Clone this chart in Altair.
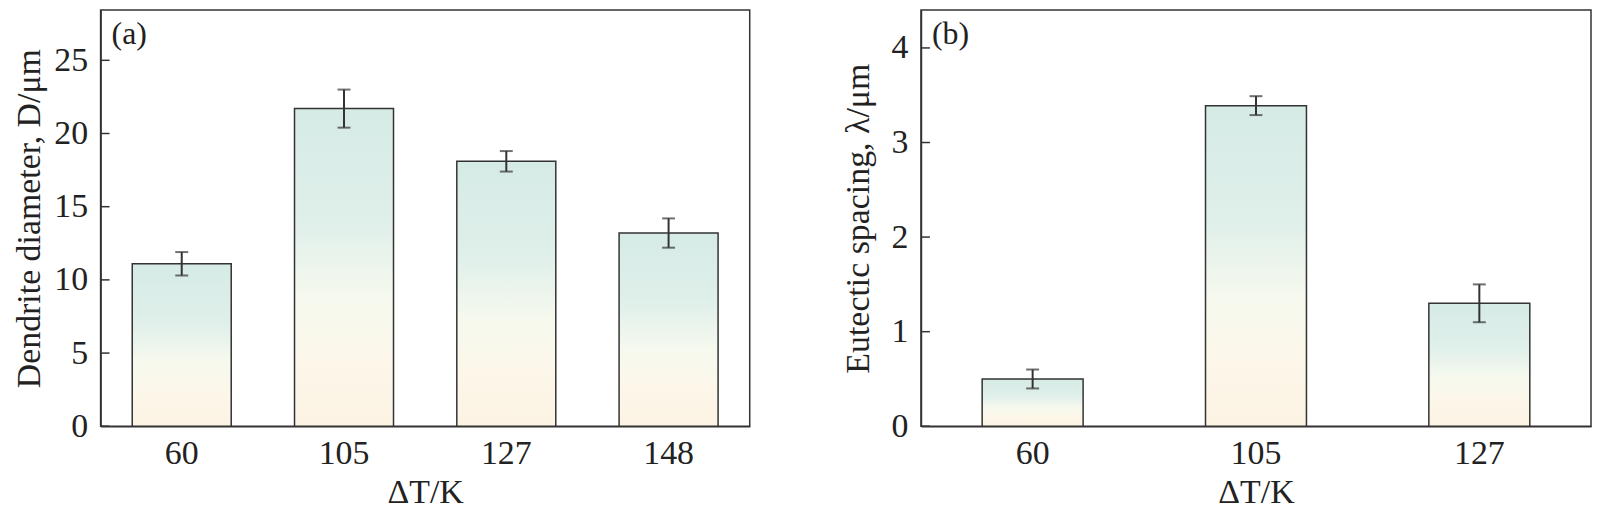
import altair as alt
import pandas as pd

# ---- data ----
dt_a = ["60", "105", "127", "148"]
dendrite = [11.1, 21.7, 18.1, 13.2]
dendrite_err = [0.8, 1.3, 0.7, 1.0]

dt_b = ["60", "105", "127"]
spacing = [0.50, 3.39, 1.30]
spacing_err = [0.10, 0.10, 0.20]

ticks_a = [0, 5, 10, 15, 20, 25]
ticks_b = [0, 1, 2, 3, 4]

FONT = "Liberation Serif"
INK = "#333333"
TXT = "#222222"

gradient = alt.Gradient(
    gradient="linear",
    stops=[
        alt.GradientStop(color="#d6ebe6", offset=0),
        alt.GradientStop(color="#dfefea", offset=0.35),
        alt.GradientStop(color="#f6f9ee", offset=0.6),
        alt.GradientStop(color="#fcf7ea", offset=0.78),
        alt.GradientStop(color="#fcf3e3", offset=1),
    ],
    x1=0, x2=0, y1=0, y2=1,
)


def panel(cats, vals, errs, ticks, ymax, ytitle, tag, width, pad_inner, title_pad):
    df = pd.DataFrame({
        "dt": cats,
        "v": vals,
        "lo": [v - e for v, e in zip(vals, errs)],
        "hi": [v + e for v, e in zip(vals, errs)],
    })
    tdf = pd.DataFrame({"t": ticks})
    xscale = alt.Scale(paddingInner=pad_inner, paddingOuter=pad_inner / 2)
    yscale = alt.Scale(domain=[0, ymax], nice=False, zero=True)

    x_main = alt.X(
        "dt:N", sort=cats, title="ΔT/K", scale=xscale,
        axis=alt.Axis(labelAngle=0, ticks=False, labelPadding=10, titlePadding=6),
    )
    x_plain = alt.X("dt:N", sort=cats, title="ΔT/K", scale=xscale)

    bars = alt.Chart(df).mark_bar(fill=gradient, stroke=INK, strokeWidth=1.5).encode(
        x=x_main,
        y=alt.Y("v:Q", scale=yscale, title=ytitle,
                axis=alt.Axis(values=ticks, ticks=False, grid=False, format="d",
                              labelPadding=13, titlePadding=title_pad)),
    )
    rule = alt.Chart(df).mark_rule(color=INK, strokeWidth=2).encode(
        x=x_plain,
        y=alt.Y("lo:Q", scale=yscale, title=ytitle),
        y2="hi:Q",
    )
    cap_lo = alt.Chart(df).mark_tick(color=INK, size=13, thickness=2).encode(
        x=x_plain, y=alt.Y("lo:Q", scale=yscale, title=ytitle)
    )
    cap_hi = alt.Chart(df).mark_tick(color=INK, size=13, thickness=2).encode(
        x=x_plain, y=alt.Y("hi:Q", scale=yscale, title=ytitle)
    )
    inner = alt.Chart(tdf).mark_rule(color=INK, strokeWidth=1.5).encode(
        y=alt.Y("t:Q", scale=yscale, title=ytitle),
        x=alt.value(0),
        x2=alt.value(9),
    )
    label = alt.Chart(pd.DataFrame({"s": [tag]})).mark_text(
        font=FONT, fontSize=32, color=TXT, align="left", baseline="alphabetic"
    ).encode(text="s:N", x=alt.value(11), y=alt.value(34))

    return alt.layer(bars, rule, cap_lo, cap_hi, inner, label).properties(
        width=width, height=418
    )


left = panel(dt_a, dendrite, dendrite_err, ticks_a, 28.43,
             "Dendrite diameter, D/μm", "(a)", 652, 0.39, 7)
right = panel(dt_b, spacing, spacing_err, ticks_b, 4.4,
              "Eutectic spacing, λ/μm", "(b)", 673, 0.548, 16)

chart = (
    alt.hconcat(left, right, spacing=90)
    .properties(padding={"left": 4, "top": 0, "right": 0, "bottom": 0})
    .configure_view(stroke=INK, strokeWidth=1.5)
    .configure_axis(
        labelFont=FONT, labelFontSize=34, labelColor=TXT,
        titleFont=FONT, titleFontSize=34, titleColor=TXT, titleFontWeight="normal",
        domainColor=INK, domainWidth=1.5,
    )
)

chart.save("out.html", embed_options={"renderer": "svg", "actions": False})
